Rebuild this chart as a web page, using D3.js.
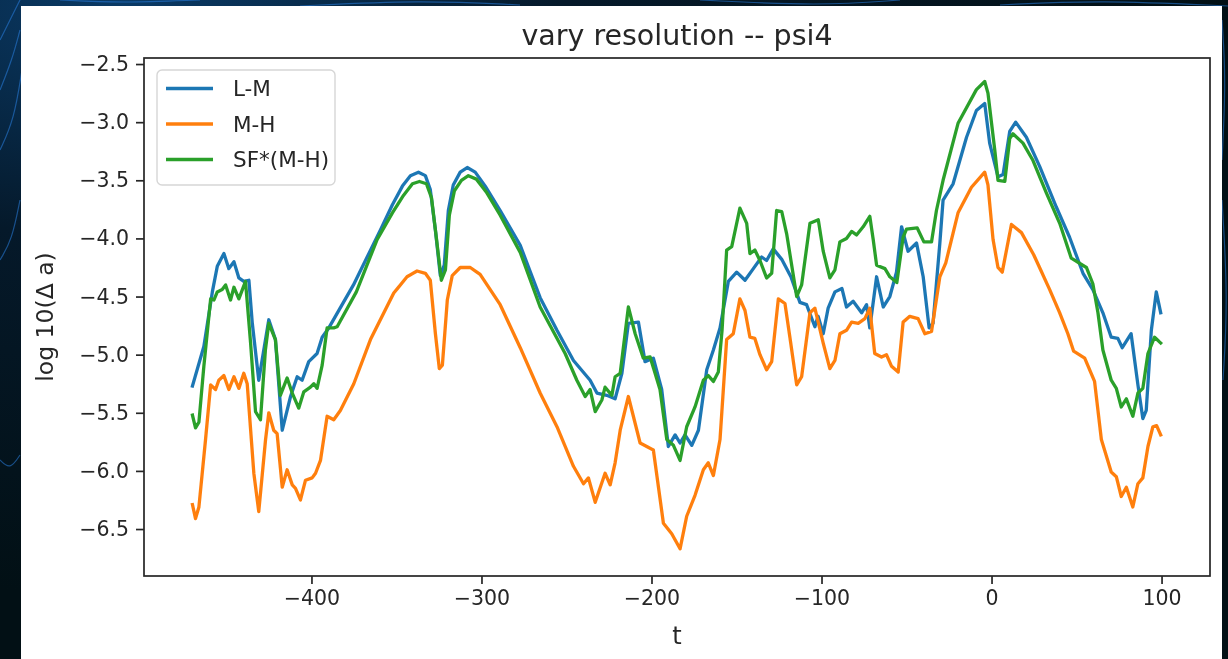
<!DOCTYPE html>
<html>
<head>
<meta charset="utf-8">
<script src="https://cdn.jsdelivr.net/npm/d3@7"></script>
<style>
html,body{margin:0;padding:0;background:#03131b;}
svg{display:block;}
</style>
</head>
<body>
<svg id="chart" width="1228" height="659"></svg>
<script>
// ---------------- data ----------------
const title = "vary resolution -- psi4";
const xLabel = "t";
const yLabel = "log 10(\u0394 a)";
const seriesNames = ["L-M", "M-H", "SF*(M-H)"];
const seriesColors = ["#1f77b4", "#ff7f0e", "#2ca02c"];
const xTicks = [-400, -300, -200, -100, 0, 100];
const yTicks = [-6.5, -6.0, -5.5, -5.0, -4.5, -4.0, -3.5, -3.0, -2.5];

// L-M
const tLM = [-470,-463.3,-458.3,-455.4,-451.5,-448.6,-445.6,-442.7,-439.8,-436.8,-434.8,-431.0,-425.1,-421.2,-417.2,-412.3,-408.4,-405.5,-401.6,-396.7,-393.7,-389.8,-375.3,-359.5,-352.4,-346.5,-341.8,-337.1,-333.0,-330.1,-327.1,-324.2,-321.9,-319.5,-316.6,-312.5,-308.4,-303.7,-297.8,-289.0,-277.2,-265.5,-255.6,-245.9,-236.1,-232.1,-226.3,-221.4,-217.4,-213.6,-207.7,-203.8,-198.9,-194.0,-190.1,-186.1,-183.2,-180.3,-176.3,-172.4,-167.5,-163.6,-159.7,-154.8,-149.9,-145.0,-140.1,-135.2,-132.3,-128.4,-123.4,-118.0,-112.7,-108.8,-103.9,-102.0,-99.0,-96.1,-92.1,-88.0,-85.3,-81.4,-76.4,-73.5,-71.6,-67.6,-63.7,-59.8,-55.9,-52.9,-49.1,-44.1,-40.2,-36.7,-34.4,-30.4,-28.5,-22.6,-14.7,-8.9,-4.0,-1.1,3.8,6.8,10.7,14.2,20.5,28.3,38.1,45.9,53.8,59.6,65.5,70.4,74.3,76.9,82.1,86.1,89.0,91.0,94.0,96.9,99.5];
const vLM = [-5.27,-4.93,-4.46,-4.24,-4.13,-4.26,-4.20,-4.34,-4.37,-4.36,-4.73,-5.22,-4.70,-4.87,-5.65,-5.36,-5.19,-5.22,-5.06,-4.99,-4.85,-4.77,-4.40,-3.93,-3.71,-3.55,-3.46,-3.43,-3.46,-3.58,-3.93,-4.32,-4.23,-3.76,-3.54,-3.43,-3.39,-3.43,-3.55,-3.76,-4.06,-4.51,-4.79,-5.05,-5.22,-5.33,-5.35,-5.38,-5.16,-4.73,-4.72,-5.06,-5.03,-5.30,-5.79,-5.69,-5.76,-5.69,-5.78,-5.65,-5.13,-4.96,-4.77,-4.37,-4.29,-4.36,-4.26,-4.16,-4.19,-4.09,-4.18,-4.33,-4.55,-4.57,-4.76,-4.67,-4.82,-4.60,-4.46,-4.43,-4.59,-4.54,-4.64,-4.57,-4.77,-4.33,-4.59,-4.50,-4.29,-3.90,-4.11,-4.04,-4.33,-4.77,-4.73,-4.04,-3.67,-3.53,-3.13,-2.90,-2.84,-3.18,-3.47,-3.45,-3.08,-3.00,-3.13,-3.38,-3.73,-3.99,-4.30,-4.44,-4.64,-4.85,-4.86,-4.94,-4.82,-5.26,-5.55,-5.48,-4.79,-4.46,-4.64];

// M-H
const tMH = [-470,-468.2,-466.2,-462.3,-459.3,-456.4,-454.5,-451.5,-448.6,-445.6,-442.7,-439.8,-437.8,-433.9,-431.0,-427.0,-425.1,-422.2,-420.2,-417.2,-414.3,-411.3,-409.4,-406.5,-403.5,-399.6,-397.6,-394.7,-390.8,-386.9,-383.0,-375.1,-365.3,-351.6,-343.8,-337.9,-333.0,-330.1,-327.1,-324.8,-323.0,-320.1,-317.2,-312.5,-306.6,-300.8,-289.0,-277.2,-265.5,-255.6,-245.9,-240.0,-237.1,-233.1,-227.3,-224.3,-221.4,-218.4,-213.6,-206.7,-202.8,-198.9,-193.0,-188.1,-183.2,-179.3,-174.4,-169.5,-166.6,-163.6,-159.7,-155.8,-151.9,-148.0,-145.0,-142.1,-139.2,-136.2,-132.3,-129.3,-125.4,-121.5,-118.6,-114.6,-111.7,-106.8,-103.9,-99.0,-95.1,-92.1,-89.2,-85.3,-82.3,-78.4,-74.5,-71.6,-68.7,-64.7,-61.8,-58.8,-54.9,-52.0,-48.1,-43.2,-39.2,-35.3,-30.4,-26.9,-19.7,-11.8,-4.0,-2.1,0.9,3.8,6.3,11.7,17.6,24.8,29.8,34.2,40.1,44.9,48.3,54.8,60.6,64.6,70.4,73.4,76.3,79.3,83.1,86.1,89.0,92.0,94.9,97.1,99.5];
const vMH = [-6.29,-6.41,-6.31,-5.73,-5.26,-5.30,-5.22,-5.18,-5.30,-5.19,-5.29,-5.16,-5.25,-6.02,-6.35,-5.73,-5.50,-5.65,-5.68,-6.14,-5.99,-6.12,-6.15,-6.25,-6.08,-6.06,-6.02,-5.91,-5.53,-5.56,-5.48,-5.25,-4.87,-4.47,-4.33,-4.28,-4.30,-4.36,-4.82,-5.12,-5.09,-4.53,-4.32,-4.25,-4.25,-4.31,-4.57,-4.94,-5.33,-5.62,-5.96,-6.11,-6.06,-6.27,-6.02,-6.12,-5.93,-5.65,-5.36,-5.76,-5.79,-5.82,-6.45,-6.54,-6.67,-6.39,-6.21,-5.99,-5.93,-6.04,-5.73,-4.87,-4.82,-4.52,-4.62,-4.85,-4.86,-5.00,-5.13,-5.06,-4.52,-4.56,-4.85,-5.26,-5.19,-4.64,-4.60,-4.90,-5.12,-5.05,-4.82,-4.79,-4.72,-4.73,-4.69,-4.60,-4.99,-5.02,-5.00,-5.10,-5.15,-4.72,-4.67,-4.69,-4.82,-4.80,-4.33,-4.21,-3.78,-3.56,-3.43,-3.54,-4.01,-4.25,-4.29,-3.88,-3.95,-4.14,-4.30,-4.44,-4.64,-4.82,-4.97,-5.03,-5.23,-5.73,-6.01,-6.05,-6.22,-6.14,-6.31,-6.11,-6.06,-5.79,-5.62,-5.61,-5.69];

// SF*(M-H)
const tSF = [-470,-468.2,-466.2,-463.3,-459.3,-457.4,-455.4,-452.5,-450.5,-447.6,-445.6,-442.7,-438.8,-435.8,-432.9,-430.0,-427.1,-425.1,-421.2,-418.3,-414.3,-411.3,-407.5,-404.5,-400.6,-398.6,-396.7,-393.7,-390.8,-386.9,-384.9,-373.6,-361.4,-352.4,-345.9,-340.6,-336.5,-332.4,-329.4,-326.5,-323.6,-321.2,-318.9,-315.9,-311.8,-307.7,-303.0,-297.2,-289.0,-277.2,-265.5,-250.8,-243.9,-239.0,-236.1,-233.1,-229.2,-227.3,-223.3,-221.4,-218.4,-213.6,-209.6,-204.8,-200.8,-195.0,-191.0,-187.1,-183.2,-179.3,-174.4,-169.5,-166.6,-163.6,-160.7,-158.5,-155.8,-152.8,-148.0,-144.0,-142.1,-139.2,-136.2,-132.3,-129.3,-126.4,-123.4,-120.5,-114.6,-111.7,-106.8,-101.9,-99.0,-95.1,-92.1,-89.2,-85.3,-82.3,-79.4,-75.5,-71.6,-69.6,-67.6,-62.7,-59.8,-55.7,-52.0,-50.0,-43.7,-39.8,-35.3,-32.4,-28.5,-19.7,-8.9,-4.0,-2.1,1.9,3.8,7.8,10.7,12.6,18.5,24.4,32.3,40.1,46.9,55.8,59.6,62.6,65.5,70.4,73.4,76.3,79.3,83.1,86.1,89.0,92.0,95.9,99.5];
const vSF = [-5.52,-5.63,-5.58,-5.10,-4.52,-4.53,-4.46,-4.44,-4.40,-4.53,-4.42,-4.52,-4.37,-4.90,-5.49,-5.56,-4.96,-4.73,-4.87,-5.35,-5.20,-5.33,-5.46,-5.32,-5.28,-5.25,-5.29,-5.09,-4.77,-4.77,-4.76,-4.46,-4.01,-3.78,-3.63,-3.53,-3.51,-3.53,-3.65,-4.00,-4.36,-4.27,-3.80,-3.59,-3.50,-3.46,-3.49,-3.60,-3.80,-4.12,-4.59,-4.99,-5.22,-5.36,-5.30,-5.49,-5.39,-5.28,-5.35,-5.19,-5.16,-4.59,-4.82,-5.03,-5.02,-5.30,-5.73,-5.78,-5.91,-5.62,-5.45,-5.22,-5.18,-5.23,-5.15,-4.79,-4.10,-4.07,-3.74,-3.87,-4.13,-4.10,-4.19,-4.34,-4.30,-3.76,-3.77,-3.96,-4.50,-4.40,-3.87,-3.84,-4.11,-4.34,-4.27,-4.03,-4.00,-3.94,-3.97,-3.90,-3.81,-4.01,-4.23,-4.26,-4.33,-4.38,-3.99,-3.92,-3.91,-4.03,-4.03,-3.76,-3.50,-3.01,-2.72,-2.65,-2.75,-3.24,-3.50,-3.51,-3.14,-3.10,-3.18,-3.33,-3.61,-3.87,-4.17,-4.25,-4.39,-4.64,-4.96,-5.22,-5.29,-5.45,-5.38,-5.53,-5.33,-5.29,-4.99,-4.85,-4.90];

// ---------------- drawing ----------------
const svg = d3.select("#chart");
const W = 1228, H = 659;
const font = "'DejaVu Sans', sans-serif";
const ink = "#262626";

const defs = svg.append("defs");
const soft = defs.append("filter").attr("id", "soft").attr("x", "-2%").attr("y", "-2%").attr("width", "104%").attr("height", "104%");
soft.append("feGaussianBlur").attr("stdDeviation", 0.55);

// decorative dark background with faint blue network lines
const bg = defs.append("radialGradient").attr("id", "bgGrad").attr("cx", "10%").attr("cy", "0%").attr("r", "90%");
bg.append("stop").attr("offset", "0%").attr("stop-color", "#0a3a66");
bg.append("stop").attr("offset", "40%").attr("stop-color", "#05192a");
bg.append("stop").attr("offset", "100%").attr("stop-color", "#021015");
svg.append("rect").attr("width", W).attr("height", H).attr("fill", "url(#bgGrad)");
const glow = svg.append("g").attr("fill", "none").attr("stroke", "#2a7fe0").attr("stroke-opacity", 0.55).attr("stroke-width", 1.2);
const decoCurves = [
  [[0,40],[10,20],[20,0]], [[0,90],[12,60],[20,30]], [[0,150],[14,120],[22,70]],
  [[60,0],[120,3],[200,0]], [[300,6],[420,0],[520,5]], [[700,0],[820,6],[900,0]],
  [[1000,5],[1100,0],[1228,6]], [[1222,20],[1226,80],[1222,160]], [[1222,200],[1228,300],[1223,380]],
  [[0,260],[12,240],[20,200]], [[0,460],[10,470],[20,455]]
];
decoCurves.forEach(c => glow.append("path").attr("d", d3.line().curve(d3.curveBasis)(c)));

// white figure area
svg.append("rect").attr("x", 21).attr("y", 6).attr("width", 1201).attr("height", H - 6).attr("fill", "#ffffff");

const fig = svg.append("g").attr("filter", "url(#soft)");

const M = {left: 144, right: 1210, top: 58, bottom: 576};
const x = d3.scaleLinear().domain([-498.5, 128.5]).range([M.left, M.right]);
const y = d3.scaleLinear().domain([-6.904, -2.448]).range([M.bottom, M.top]);

const fmtMinus = s => s.replace("-", "\u2212");

// axes
const xAxis = d3.axisBottom(x).tickValues(xTicks).tickSize(8).tickPadding(6)
  .tickFormat(d => fmtMinus(d3.format("d")(d)));
const yAxis = d3.axisLeft(y).tickValues(yTicks).tickSize(8).tickPadding(7)
  .tickFormat(d => fmtMinus(d3.format(".1f")(d)));

const gx = fig.append("g").attr("transform", `translate(0,${M.bottom})`).call(xAxis);
const gy = fig.append("g").attr("transform", `translate(${M.left},0)`).call(yAxis);
[gx, gy].forEach(g => {
  g.select(".domain").remove();
  g.selectAll(".tick line").attr("stroke", ink).attr("stroke-width", 1.7);
  g.selectAll(".tick text").attr("fill", ink).attr("font-family", font).attr("font-size", 20.5);
});

// lines
const clip = defs.append("clipPath").attr("id", "plotClip");
clip.append("rect").attr("x", M.left).attr("y", M.top).attr("width", M.right - M.left).attr("height", M.bottom - M.top);
const plot = fig.append("g").attr("clip-path", "url(#plotClip)");
const line = d3.line().x(d => x(d[0])).y(d => y(d[1]));
const seriesData = [d3.zip(tLM, vLM), d3.zip(tMH, vMH), d3.zip(tSF, vSF)];
seriesData.forEach((data, i) => {
  plot.append("path").datum(data).attr("d", line)
    .attr("fill", "none").attr("stroke", seriesColors[i]).attr("stroke-width", 3.3)
    .attr("stroke-linejoin", "round").attr("stroke-linecap", "square");
});

// frame
fig.append("rect").attr("x", M.left).attr("y", M.top)
  .attr("width", M.right - M.left).attr("height", M.bottom - M.top)
  .attr("fill", "none").attr("stroke", ink).attr("stroke-width", 1.7);

// legend
const lg = fig.append("g");
lg.append("rect").attr("x", 157).attr("y", 70).attr("width", 178).attr("height", 115)
  .attr("rx", 5).attr("fill", "#ffffff").attr("fill-opacity", 0.8)
  .attr("stroke", "#d6d6d6").attr("stroke-width", 1.4);
seriesNames.forEach((name, i) => {
  const cy = 88.5 + i * 35.5;
  lg.append("line").attr("x1", 166).attr("x2", 213).attr("y1", cy).attr("y2", cy)
    .attr("stroke", seriesColors[i]).attr("stroke-width", 3.3);
  lg.append("text").attr("x", 233).attr("y", cy + 7.5).text(name)
    .attr("font-family", font).attr("font-size", 21.5).attr("fill", ink);
});

// title & labels
fig.append("text").attr("x", (M.left + M.right) / 2).attr("y", 45).attr("text-anchor", "middle")
  .attr("font-family", font).attr("font-size", 28.5).attr("fill", ink).text(title);
fig.append("text").attr("x", (M.left + M.right) / 2).attr("y", 644).attr("text-anchor", "middle")
  .attr("font-family", font).attr("font-size", 24).attr("fill", ink).text(xLabel);
fig.append("text").attr("transform", `translate(53,${(M.top + M.bottom) / 2}) rotate(-90)`)
  .attr("text-anchor", "middle").attr("font-family", font).attr("font-size", 23.5).attr("fill", ink).text(yLabel);
</script>
</body>
</html>
